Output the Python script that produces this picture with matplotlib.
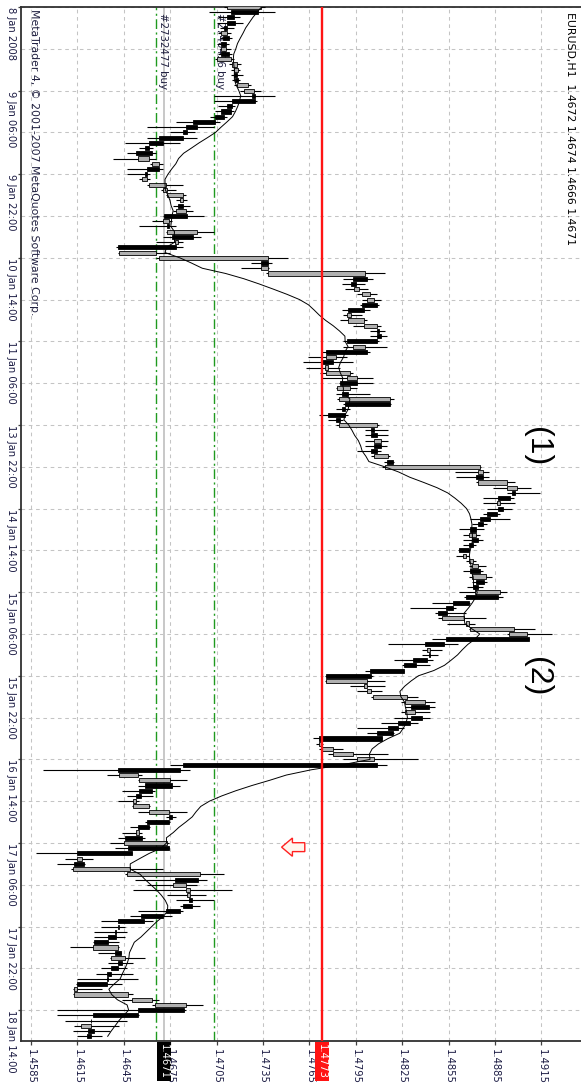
import matplotlib
matplotlib.use("Agg")
import matplotlib.pyplot as plt
import pandas as pd
from matplotlib.patches import Polygon

plt.rcParams['font.family'] = ['DejaVu Sans']

# ---------------- data (EURUSD H1, one entry per bar, top = oldest) ----------------
opens = [1.4712, 1.4732, 1.4716, 1.4717, 1.4712, 1.4708, 1.4713, 1.4711, 1.4708, 1.4713,
         1.4705, 1.4715, 1.4716, 1.4718, 1.4719, 1.4718, 1.4723, 1.4730, 1.4730, 1.4715,
         1.4714, 1.4710, 1.4704, 1.4692, 1.4686, 1.4683, 1.4670, 1.4661, 1.4663, 1.4654,
         1.4663, 1.4668, 1.4660, 1.4657, 1.4661, 1.4670, 1.4673, 1.4681, 1.4683, 1.4679,
         1.4686, 1.4670, 1.4674, 1.4673, 1.4690, 1.4678, 1.4679, 1.4642, 1.4668, 1.4738,
         1.4734, 1.4738, 1.4802, 1.4795, 1.4794, 1.4799, 1.4802, 1.4809, 1.4800, 1.4789,
         1.4790, 1.4800, 1.4810, 1.4811, 1.4809, 1.4793, 1.4802, 1.4776, 1.4780, 1.4775,
         1.4776, 1.4789, 1.4796, 1.4783, 1.4790, 1.4784, 1.4817, 1.4788, 1.4788, 1.4785,
         1.4784, 1.4807, 1.4809, 1.4807, 1.4811, 1.4809, 1.4807, 1.4819, 1.4814, 1.4874,
         1.4877, 1.4874, 1.4893, 1.4898, 1.4895, 1.4886, 1.4890, 1.4886, 1.4882, 1.4877,
         1.4873, 1.4868, 1.4874, 1.4871, 1.4868, 1.4864, 1.4868, 1.4870, 1.4875, 1.4870,
         1.4878, 1.4874, 1.4872, 1.4887, 1.4868, 1.4858, 1.4854, 1.4851, 1.4866, 1.4869,
         1.4894, 1.4907, 1.4852, 1.4841, 1.4843, 1.4841, 1.4834, 1.4826, 1.4805, 1.4776,
         1.4800, 1.4802, 1.4806, 1.4827, 1.4842, 1.4827, 1.4838, 1.4830, 1.4822, 1.4819,
         1.4812, 1.4771, 1.4773, 1.4780, 1.4796, 1.4809, 1.4681, 1.4642, 1.4655, 1.4676,
         1.4663, 1.4656, 1.4651, 1.4651, 1.4661, 1.4676, 1.4674, 1.4661, 1.4653, 1.4657,
         1.4645, 1.4674, 1.4650, 1.4615, 1.4619, 1.4612, 1.4647, 1.4693, 1.4677, 1.4685,
         1.4686, 1.4689, 1.4689, 1.4681, 1.4670, 1.4658, 1.4641, 1.4640, 1.4640, 1.4635,
         1.4625, 1.4643, 1.4637, 1.4644, 1.4641, 1.4637, 1.4635, 1.4634, 1.4613, 1.4613,
         1.4650, 1.4665, 1.4684, 1.4654, 1.4624, 1.4617, 1.4626, 1.4624]
highs = [1.4736, 1.4743, 1.4720, 1.4722, 1.4716, 1.4714, 1.4715, 1.4713, 1.4714, 1.4715,
         1.4716, 1.4721, 1.4720, 1.4722, 1.4720, 1.4727, 1.4734, 1.4743, 1.4731, 1.4717,
         1.4716, 1.4712, 1.4707, 1.4703, 1.4691, 1.4692, 1.4681, 1.4664, 1.4666, 1.4666,
         1.4670, 1.4670, 1.4662, 1.4662, 1.4683, 1.4679, 1.4685, 1.4686, 1.4688, 1.4690,
         1.4697, 1.4676, 1.4679, 1.4703, 1.4695, 1.4683, 1.4683, 1.4675, 1.4751, 1.4741,
         1.4739, 1.4814, 1.4806, 1.4801, 1.4803, 1.4809, 1.4811, 1.4810, 1.4804, 1.4799,
         1.4802, 1.4811, 1.4814, 1.4815, 1.4810, 1.4815, 1.4804, 1.4789, 1.4793, 1.4785,
         1.4793, 1.4806, 1.4806, 1.4796, 1.4804, 1.4820, 1.4818, 1.4791, 1.4790, 1.4787,
         1.4810, 1.4816, 1.4816, 1.4816, 1.4815, 1.4811, 1.4817, 1.4820, 1.4876, 1.4881,
         1.4881, 1.4898, 1.4908, 1.4914, 1.4897, 1.4898, 1.4896, 1.4888, 1.4895, 1.4880,
         1.4878, 1.4875, 1.4877, 1.4873, 1.4869, 1.4868, 1.4873, 1.4879, 1.4877, 1.4883,
         1.4880, 1.4877, 1.4893, 1.4890, 1.4869, 1.4860, 1.4866, 1.4879, 1.4872, 1.4911,
         1.4922, 1.4907, 1.4861, 1.4851, 1.4848, 1.4845, 1.4843, 1.4826, 1.4806, 1.4814,
         1.4814, 1.4812, 1.4835, 1.4846, 1.4846, 1.4843, 1.4843, 1.4835, 1.4826, 1.4820,
         1.4812, 1.4774, 1.4787, 1.4816, 1.4835, 1.4815, 1.4688, 1.4657, 1.4686, 1.4681,
         1.4665, 1.4664, 1.4655, 1.4662, 1.4686, 1.4679, 1.4675, 1.4662, 1.4657, 1.4659,
         1.4674, 1.4674, 1.4650, 1.4625, 1.4620, 1.4670, 1.4710, 1.4699, 1.4692, 1.4715,
         1.4698, 1.4703, 1.4694, 1.4683, 1.4676, 1.4664, 1.4646, 1.4647, 1.4646, 1.4642,
         1.4642, 1.4643, 1.4659, 1.4651, 1.4647, 1.4651, 1.4654, 1.4644, 1.4631, 1.4651,
         1.4668, 1.4696, 1.4685, 1.4655, 1.4647, 1.4642, 1.4636, 1.4631]
lows = [1.4710, 1.4700, 1.4706, 1.4705, 1.4707, 1.4706, 1.4707, 1.4705, 1.4707, 1.4706,
        1.4704, 1.4713, 1.4714, 1.4714, 1.4715, 1.4716, 1.4720, 1.4703, 1.4703, 1.4706,
        1.4704, 1.4701, 1.4679, 1.4660, 1.4675, 1.4660, 1.4646, 1.4655, 1.4647, 1.4638,
        1.4662, 1.4647, 1.4647, 1.4655, 1.4660, 1.4669, 1.4672, 1.4679, 1.4677, 1.4677,
        1.4670, 1.4663, 1.4655, 1.4672, 1.4670, 1.4666, 1.4640, 1.4641, 1.4666, 1.4727,
        1.4721, 1.4737, 1.4787, 1.4786, 1.4788, 1.4796, 1.4799, 1.4798, 1.4786, 1.4787,
        1.4785, 1.4793, 1.4804, 1.4804, 1.4787, 1.4787, 1.4773, 1.4764, 1.4761, 1.4763,
        1.4772, 1.4773, 1.4784, 1.4782, 1.4782, 1.4783, 1.4787, 1.4782, 1.4771, 1.4777,
        1.4782, 1.4801, 1.4801, 1.4801, 1.4801, 1.4796, 1.4805, 1.4813, 1.4812, 1.4859,
        1.4860, 1.4873, 1.4884, 1.4893, 1.4877, 1.4877, 1.4880, 1.4877, 1.4869, 1.4870,
        1.4862, 1.4864, 1.4864, 1.4864, 1.4861, 1.4860, 1.4866, 1.4868, 1.4864, 1.4868,
        1.4870, 1.4867, 1.4862, 1.4865, 1.4844, 1.4830, 1.4846, 1.4848, 1.4854, 1.4868,
        1.4893, 1.4844, 1.4816, 1.4838, 1.4838, 1.4820, 1.4825, 1.4801, 1.4775, 1.4775,
        1.4791, 1.4796, 1.4805, 1.4824, 1.4827, 1.4824, 1.4820, 1.4811, 1.4796, 1.4802,
        1.4767, 1.4769, 1.4771, 1.4777, 1.4787, 1.4675, 1.4593, 1.4634, 1.4654, 1.4654,
        1.4644, 1.4647, 1.4641, 1.4650, 1.4654, 1.4672, 1.4659, 1.4649, 1.4644, 1.4641,
        1.4636, 1.4639, 1.4588, 1.4607, 1.4602, 1.4611, 1.4646, 1.4652, 1.4660, 1.4651,
        1.4673, 1.4679, 1.4681, 1.4654, 1.4649, 1.4630, 1.4630, 1.4626, 1.4626, 1.4625,
        1.4610, 1.4628, 1.4636, 1.4635, 1.4630, 1.4627, 1.4615, 1.4614, 1.4612, 1.4612,
        1.4644, 1.4663, 1.4602, 1.4602, 1.4607, 1.4613, 1.4612, 1.4615]
closes = [1.4734, 1.4714, 1.4712, 1.4712, 1.4710, 1.4712, 1.4709, 1.4708, 1.4711, 1.4708,
          1.4714, 1.4718, 1.4719, 1.4716, 1.4717, 1.4725, 1.4729, 1.4728, 1.4715, 1.4712,
          1.4708, 1.4704, 1.4690, 1.4685, 1.4683, 1.4668, 1.4661, 1.4659, 1.4653, 1.4661,
          1.4668, 1.4660, 1.4659, 1.4660, 1.4672, 1.4673, 1.4683, 1.4683, 1.4680, 1.4685,
          1.4671, 1.4674, 1.4673, 1.4692, 1.4676, 1.4680, 1.4641, 1.4666, 1.4738, 1.4734,
          1.4738, 1.4801, 1.4793, 1.4792, 1.4797, 1.4804, 1.4807, 1.4799, 1.4790, 1.4792,
          1.4800, 1.4809, 1.4809, 1.4809, 1.4789, 1.4801, 1.4776, 1.4782, 1.4773, 1.4777,
          1.4791, 1.4796, 1.4785, 1.4791, 1.4786, 1.4817, 1.4788, 1.4786, 1.4777, 1.4782,
          1.4809, 1.4805, 1.4805, 1.4811, 1.4807, 1.4805, 1.4816, 1.4815, 1.4875, 1.4877,
          1.4873, 1.4893, 1.4899, 1.4896, 1.4887, 1.4888, 1.4887, 1.4880, 1.4875, 1.4874,
          1.4869, 1.4873, 1.4870, 1.4868, 1.4862, 1.4866, 1.4871, 1.4874, 1.4869, 1.4879,
          1.4873, 1.4871, 1.4888, 1.4866, 1.4858, 1.4853, 1.4848, 1.4865, 1.4868, 1.4897,
          1.4906, 1.4853, 1.4840, 1.4843, 1.4842, 1.4832, 1.4826, 1.4804, 1.4776, 1.4802,
          1.4802, 1.4805, 1.4828, 1.4840, 1.4831, 1.4833, 1.4831, 1.4822, 1.4816, 1.4809,
          1.4771, 1.4773, 1.4780, 1.4793, 1.4807, 1.4683, 1.4641, 1.4654, 1.4675, 1.4659,
          1.4655, 1.4653, 1.4653, 1.4661, 1.4674, 1.4674, 1.4660, 1.4654, 1.4655, 1.4646,
          1.4673, 1.4648, 1.4615, 1.4618, 1.4613, 1.4649, 1.4694, 1.4678, 1.4685, 1.4688,
          1.4688, 1.4687, 1.4683, 1.4672, 1.4656, 1.4641, 1.4642, 1.4639, 1.4635, 1.4626,
          1.4641, 1.4639, 1.4646, 1.4641, 1.4637, 1.4634, 1.4634, 1.4615, 1.4615, 1.4648,
          1.4663, 1.4685, 1.4654, 1.4625, 1.4624, 1.4624, 1.4622, 1.4621]

time_tick_bars = [0, 16, 32, 48, 64, 80, 96, 112, 128, 144, 160, 176, 192]
time_labels = ['8 Jan 2008', '9 Jan 06:00', '9 Jan 22:00', '10 Jan 14:00', '11 Jan 06:00',
               '13 Jan 22:00', '14 Jan 14:00', '15 Jan 06:00', '15 Jan 22:00',
               '16 Jan 14:00', '17 Jan 06:00', '17 Jan 22:00', '18 Jan 14:00']
time_grid_bars = [8, 24, 40, 56, 72, 88, 104, 120, 136, 152, 168, 184]
price_ticks = [1.4585, 1.4615, 1.4645, 1.4675, 1.4705, 1.4735, 1.4765,
               1.4795, 1.4825, 1.4855, 1.4885, 1.4915]
order_levels = [1.4666, 1.4703]
order_names = ['#2732477 buy', '#2740416 buy']
alert_level = 1.4773
bid_price = 1.4671
header_text = 'EURUSD,H1  1.4672 1.4674 1.4666 1.4671'
copyright_text = 'MetaTrader 4, \u00a9 2001-2007 MetaQuotes Software Corp.'
wave_labels = ['(1)', '(2)']
wave_label_prices = [1.4912, 1.4912]
wave_label_bars = [84.2, 128.2]
arrow_price = 1.4747
arrow_bar = 160.8
ma_period = 13

# ---------------- figure ----------------
W, H = 581, 1089
fig = plt.figure(figsize=(W / 100, H / 100), dpi=100)
ax = fig.add_axes([21 / W, 48 / H, 560 / W, 1034 / H])
ax.set_xlim(1.45785, 1.49406)
ax.set_ylim(197.9, 0)

txt_col = '#1c1c44'

# grid
ax.set_xticks(price_ticks)
ax.set_xticklabels([f'{p:.4f}' for p in price_ticks], rotation=-90, ha='center',
                   va='top', fontsize=7.2, color=txt_col)
ax.set_yticks(time_tick_bars)
ax.set_yticklabels(time_labels, rotation=-90, ha='right', va='top', fontsize=7.2,
                   color=txt_col)
ax.set_yticks(time_grid_bars, minor=True)
ax.tick_params(axis='x', which='major', length=3, width=0.9, pad=3, color='#404040')
ax.tick_params(axis='y', which='major', length=2.5, width=0.9, pad=1, color='#404040')
ax.tick_params(axis='y', which='minor', length=0)
ax.grid(True, which='both', color='#c4c4c4', linestyle=(0, (3.5, 3.5)), linewidth=0.75, zorder=0)
ax.set_axisbelow(True)

for side in ['left', 'bottom', 'top']:
    ax.spines[side].set_color('#303030')
    ax.spines[side].set_linewidth(1.3)
ax.spines['right'].set_visible(False)

# bid line and order lines
ax.axvline(bid_price, color='#c8c8c8', lw=1.4, zorder=1)
for lvl, name in zip(order_levels, order_names):
    ax.axvline(lvl, color='#1f9a1f', lw=1.0, dashes=(7, 2.5, 1.5, 2.5), zorder=1.2)
    ax.text(lvl + 0.0004, 1.1, name, rotation=-90, ha='center', va='top',
            fontsize=7.4, color='#202040', zorder=1.3)

# candles
n = len(opens)
bars = list(range(n))
for i in bars:
    ax.plot([lows[i], highs[i]], [i, i], color='black', lw=0.8, zorder=3,
            solid_capstyle='butt')
lefts = [min(o, c) for o, c in zip(opens, closes)]
widths = [abs(c - o) for o, c in zip(opens, closes)]
fills = ['#b0b0b0' if c >= o else 'black' for o, c in zip(opens, closes)]
ax.barh(bars, widths, left=lefts, height=0.78, color=fills, edgecolor='black',
        linewidth=0.6, zorder=4)

# moving average
ma = pd.Series(closes).ewm(span=ma_period, adjust=False).mean()
ax.plot(ma.values, bars, color='black', lw=0.7, zorder=5)

# alert line
ax.axvline(alert_level, color='#ff1414', lw=1.7, zorder=6)

# price labels on the axis
ax.text(alert_level, -0.003, f'{alert_level:.4f}', transform=ax.get_xaxis_transform(),
        rotation=-90, ha='center', va='top', fontsize=7.2, color='white', zorder=10,
        clip_on=False, bbox=dict(boxstyle='square,pad=0.2', fc='#ff1414', ec='none'))
ax.text(bid_price, -0.003, f'{bid_price:.4f}', transform=ax.get_xaxis_transform(),
        rotation=-90, ha='center', va='top', fontsize=7.2, color='white', zorder=10,
        clip_on=False, bbox=dict(boxstyle='square,pad=0.2', fc='black', ec='none'))

# header & copyright
ax.text(0.980, 0.995, header_text, transform=ax.transAxes, rotation=-90, ha='center',
        va='top', fontsize=7.8, color='black', zorder=7)
ax.text(0.0235, 0.998, copyright_text, transform=ax.transAxes, rotation=-90,
        ha='center', va='top', fontsize=7.8, color='#202040', zorder=7)

# wave labels
for lab, p, b in zip(wave_labels, wave_label_prices, wave_label_bars):
    ax.text(p, b, lab, rotation=-90, ha='center', va='center', fontsize=23,
            family=['Liberation Sans'], color='black', zorder=7)

# arrow object
hl, tl, hh, sh = 0.0007, 0.0015, 1.75, 0.85
verts = [(arrow_price, arrow_bar), (arrow_price + hl, arrow_bar - hh),
         (arrow_price + hl, arrow_bar - sh), (arrow_price + tl, arrow_bar - sh),
         (arrow_price + tl, arrow_bar + sh), (arrow_price + hl, arrow_bar + sh),
         (arrow_price + hl, arrow_bar + hh)]
ax.add_patch(Polygon(verts, closed=True, fc='#fff6ee', ec='#ff2020', lw=1.0, zorder=7))

fig.savefig('out.png', dpi=100)
